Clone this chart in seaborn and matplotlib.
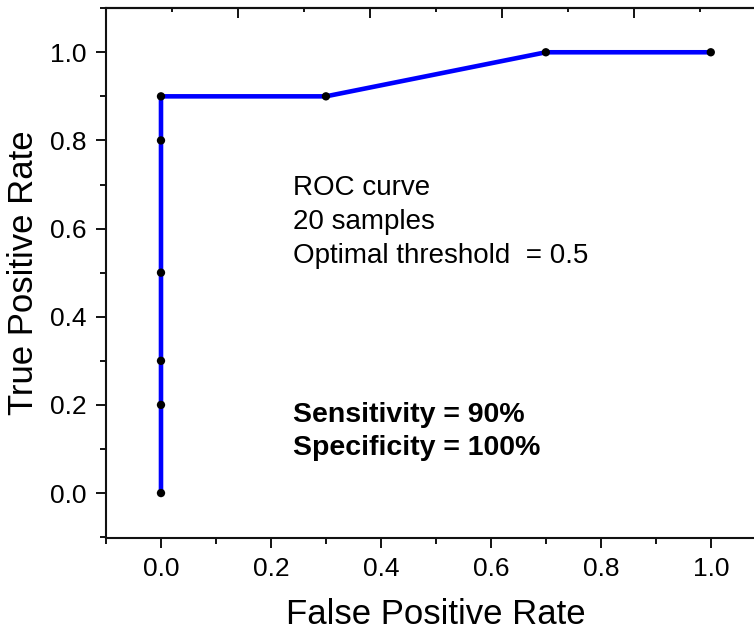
import matplotlib
matplotlib.use('Agg')
import matplotlib.pyplot as plt
import numpy as np
import pandas as pd
import seaborn as sns

# ROC points
fpr = [0.0, 0.0, 0.0, 0.0, 0.0, 0.0, 0.3, 0.7, 1.0]
tpr = [0.0, 0.2, 0.3, 0.5, 0.8, 0.9, 0.9, 1.0, 1.0]
info_lines = ['ROC curve', '20 samples', 'Optimal threshold  = 0.5']
stat_lines = ['Sensitivity = 90%', 'Specificity = 100%']

df = pd.DataFrame({'fpr': fpr, 'tpr': tpr, 'order': range(len(fpr))})

sns.set_style('ticks')
plt.rcParams['font.family'] = ['Liberation Sans', 'DejaVu Sans']
plt.rcParams['text.color'] = 'black'
plt.rcParams['axes.labelcolor'] = 'black'
plt.rcParams['xtick.color'] = 'black'
plt.rcParams['ytick.color'] = 'black'

fig = plt.figure(figsize=(7.54, 6.3), dpi=100)
ax = fig.add_axes([0.1406, 0.146, 0.875, 0.841])

sns.lineplot(data=df, x='fpr', y='tpr', sort=False, estimator=None,
             color='#0000ff', lw=3.3, ax=ax, zorder=2)
sns.scatterplot(data=df, x='fpr', y='tpr', color='black', s=36,
                edgecolor='none', ax=ax, zorder=3)

ax.set_xlim(-0.1, 1.1)
ax.set_ylim(-0.102, 1.1)
ax.set_xticks(np.arange(0, 1.01, 0.2))
ax.set_xticks(np.arange(-0.1, 1.1, 0.2), minor=True)
ax.set_yticks(np.arange(0, 1.01, 0.2))
ax.set_yticks(np.arange(-0.1, 1.1, 0.2), minor=True)
ax.xaxis.set_major_formatter(matplotlib.ticker.FormatStrFormatter('%.1f'))
ax.yaxis.set_major_formatter(matplotlib.ticker.FormatStrFormatter('%.1f'))
ax.tick_params(which='major', direction='out', length=7, width=1.3,
               labelsize=19, pad=7, color='black')
ax.tick_params(which='minor', direction='out', length=4, width=1.3, color='black')

for side in ['left', 'bottom', 'top']:
    ax.spines[side].set_linewidth(1.5)
    ax.spines[side].set_color('#111111')
ax.spines['right'].set_visible(False)

top = ax.secondary_xaxis('top')
top.set_xticks([0.14, 0.38, 0.62, 0.86])
top.set_xticks([0.02, 0.26, 0.50, 0.74, 0.98], minor=True)
top.tick_params(which='major', direction='in', length=7, width=1.3, labeltop=False)
top.tick_params(which='minor', direction='in', length=3, width=1.3)
top.spines['top'].set_linewidth(1.5)
top.spines['top'].set_color('#111111')

ax.set_xlabel('False Positive Rate', fontsize=25, labelpad=12)
ax.set_ylabel('True Positive Rate', fontsize=25, labelpad=7)

for txt, yv in zip(info_lines, [0.676, 0.599, 0.522]):
    ax.text(0.24, yv, txt, fontsize=20, va='baseline', ha='left')
for txt, yv in zip(stat_lines, [0.161, 0.086]):
    ax.text(0.24, yv, txt, fontsize=20.5, fontweight='bold', va='baseline', ha='left')

fig.savefig('out.png', dpi=100)
